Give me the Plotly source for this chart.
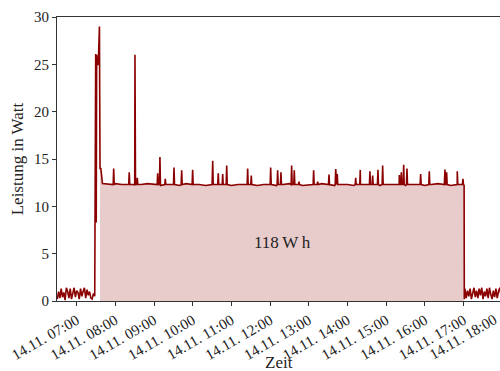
import pandas as pd
import plotly.graph_objects as go

DAY = "2023-11-14"
REF = pd.Timestamp(f"{DAY} 07:00")  # minutes below are counted from 07:00

# standby noise before switch-on: 2-minute samples starting 06:30
pre_first_min = -30
pre_values = [0.2, 1.0, 0.3, 1.3, 0.4, 0.9, 0.1, 1.4, 1.0, 0.3,
              1.3, 0.2, 0.8, 1.4, 0.4, 1.1, 0.9, 0.2, 1.3, 0.5,
              1.0, 1.4, 0.3, 1.2, 0.6, 1.0, 0.3, 0.2, 0.8, 0.5]

# switch-on burst (minutes after 07:00, watt)
burst_min = [29.5, 30.3, 31.0, 31.8, 33.5, 35.3, 36.2, 37.5]
burst_val = [26.1, 8.3, 26.0, 25.0, 25.0, 29.0, 14.0, 14.0]

# operating baseline: 10-minute samples from 07:40 to 17:00
base_first_min = 40
base_values = [12.4, 12.3, 12.4, 12.3, 12.3, 12.2, 12.3, 12.4, 12.3, 12.2,
               12.3, 12.3, 12.2, 12.4, 12.3, 12.3, 12.2, 12.3, 12.4, 12.3,
               12.2, 12.3, 12.3, 12.4, 12.2, 12.3, 12.3, 12.2, 12.3, 12.4,
               12.3, 12.2, 12.3, 12.3, 12.4, 12.3, 12.2, 12.3, 12.3, 12.2,
               12.4, 12.3, 12.3, 12.2, 12.3, 12.3, 12.4, 12.2, 12.3, 12.3,
               12.2, 12.3, 12.4, 12.3, 12.2, 12.3, 12.2]
base_level = 12.3

# short load peaks (minutes after 07:00, watt)
spike_min = [57.4, 81.5, 90.4, 94.0, 125.6, 129.1, 137.4, 150.9, 162.8, 179.8,
             210.9, 219.5, 226.4, 232.6, 265.1, 270.7, 300.8, 311.6, 316.7, 333.3,
             337.4, 344.7, 367.4, 373.6, 391.2, 401.6, 404.0, 432.6, 439.7, 454.7,
             458.9, 467.1, 474.4, 500.2, 503.3, 507.0, 512.1, 533.3, 546.7, 571.0,
             573.6, 590.1, 598.9]
spike_val = [14.0, 13.6, 26.0, 13.0, 13.5, 15.2, 12.9, 14.1, 13.8, 13.85,
             14.8, 13.5, 13.4, 14.3, 14.0, 13.25, 14.1, 13.8, 13.6, 14.3,
             13.8, 12.6, 13.8, 12.6, 13.35, 13.95, 13.4, 13.0, 13.85, 13.7,
             13.25, 13.85, 14.3, 13.3, 13.6, 14.4, 14.0, 13.4, 13.7, 13.9,
             13.6, 13.7, 12.9]

# switch-off
fill_on_min = 36.2
off_min = 601.0
off_last_val = 12.2

# standby noise after switch-off: 2-minute samples starting 17:02
post_first_min = 602
post_values = [1.3, 0.3, 1.1, 0.5, 1.3, 0.2, 1.0, 1.4, 0.4, 1.1,
               0.3, 1.3, 0.6, 1.4, 0.2, 1.0, 0.5, 1.3, 0.3, 1.4,
               0.7, 0.2, 1.1, 0.4, 1.3, 0.3, 1.0, 1.4, 0.5, 1.1]

energy_label = "118\u2009W\u2009h"

hour_ticks = ["07:00", "08:00", "09:00", "10:00", "11:00", "12:00",
              "13:00", "14:00", "15:00", "16:00", "17:00"]
extra_tick = "18:00"
tick_prefix = "14.11. "

x_start = pd.Timestamp(f"{DAY} 06:29:30")
x_end = pd.Timestamp(f"{DAY} 17:56:20")

# ---- assemble series ----
pts = []
pts += [(pre_first_min + 2 * i, v) for i, v in enumerate(pre_values)]
pts += list(zip(burst_min, burst_val))
pts += [(base_first_min + 10 * i, v) for i, v in enumerate(base_values)]
for m, v in zip(spike_min, spike_val):
    pts += [(m - 0.8, base_level), (m, v), (m + 0.8, base_level)]
pts += [(off_min - 0.3, off_last_val), (off_min, 0.2)]
pts += [(post_first_min + 2 * i, v) for i, v in enumerate(post_values)]
pts.sort(key=lambda p: p[0])

df = pd.DataFrame(pts, columns=["min", "w"])
df["t"] = REF + pd.to_timedelta(df["min"], unit="min")

active = df[(df["min"] >= fill_on_min) & (df["min"] <= off_min - 0.3)]

RED = "#8b0000"
FONT = "Liberation Serif"

fig = go.Figure()
fig.add_trace(go.Scatter(x=active["t"], y=active["w"], mode="lines",
                         line=dict(width=0), fill="tozeroy",
                         fillcolor="rgba(139,0,0,0.2)", hoverinfo="skip",
                         showlegend=False))
fig.add_trace(go.Scatter(x=df["t"], y=df["w"], mode="lines",
                         line=dict(color=RED, width=1.6), showlegend=False))

mid_t = REF + pd.Timedelta(minutes=(fill_on_min + off_min) / 2)
fig.add_annotation(x=mid_t, y=sum(base_values) / len(base_values) / 2,
                   text=energy_label, showarrow=False,
                   font=dict(family=FONT, size=17, color="#222"))

tickvals = [pd.Timestamp(f"{DAY} {h}") for h in hour_ticks]
ticktext = [tick_prefix + h for h in hour_ticks]

span = (x_end - x_start).total_seconds()
x18 = (pd.Timestamp(f"{DAY} {extra_tick}") - x_start).total_seconds() / span
fig.add_annotation(xref="paper", yref="paper", x=x18, y=0, yshift=-8,
                   xanchor="right", yanchor="top", textangle=-30,
                   text=tick_prefix + extra_tick, showarrow=False,
                   font=dict(family=FONT, size=15, color="#222"))
fig.add_annotation(xref="paper", yref="paper", x=0.5, y=-0.218,
                   xanchor="center", yanchor="middle", text="Zeit",
                   showarrow=False, font=dict(family=FONT, size=17, color="#222"))

axis_common = dict(showline=True, linecolor="#333", linewidth=1, ticks="outside",
                   ticklen=4, tickwidth=1, tickcolor="#333", showgrid=False,
                   zeroline=False, tickfont=dict(family=FONT, size=15, color="#222"))

fig.update_layout(
    width=500, height=371,
    margin=dict(l=57, r=0, t=17, b=70),
    plot_bgcolor="white", paper_bgcolor="white",
    xaxis=dict(range=[x_start, x_end], tickvals=tickvals, ticktext=ticktext,
               tickangle=-30, mirror=True, **axis_common),
    yaxis=dict(range=[0, 30], tickvals=[0, 5, 10, 15, 20, 25, 30],
               title=dict(text="Leistung in Watt", standoff=6,
                          font=dict(family=FONT, size=17, color="#222")),
               **axis_common),
)

fig.write_html("out.html", config={"displayModeBar": False},
               post_script="document.body.style.margin='0';document.body.style.overflow='hidden';")
